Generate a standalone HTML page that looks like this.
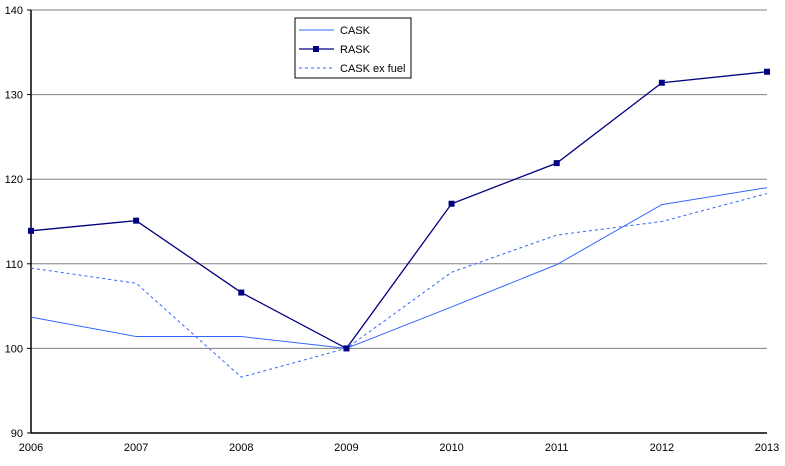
<!DOCTYPE html>
<html><head><meta charset="utf-8"><style>
body{margin:0;background:#fff;font-family:"Liberation Sans",Arial,sans-serif}
svg text{font-family:"Liberation Sans",Arial,sans-serif;font-size:11px;fill:#000}
</style></head><body>
<svg width="785" height="461">
<g id="grid"></g>
<g id="axes"></g>
<g id="series"></g>
<g>
<rect x="295" y="18" width="116" height="60" fill="#fff" stroke="#000" stroke-width="1"/>
<line x1="299" y1="30" x2="334" y2="30" stroke="#3366ff" stroke-width="1"/>
<text x="340" y="34">CASK</text>
<line x1="299" y1="49" x2="334" y2="49" stroke="#000080" stroke-width="1.3"/>
<rect x="313" y="46" width="6" height="6" fill="#000080"/>
<text x="340" y="53">RASK</text>
<line x1="299" y1="68" x2="334" y2="68" stroke="#3366ff" stroke-width="1" stroke-dasharray="3,3"/>
<text x="340" y="72">CASK ex fuel</text>
</g>
</svg>
<script>
const years=["2006","2007","2008","2009","2010","2011","2012","2013"];
const cask=[103.7,101.4,101.4,100,104.9,109.9,117.0,119.0];
const rask=[113.9,115.1,106.6,100,117.1,121.9,131.4,132.7];
const caskExFuel=[109.5,107.7,96.6,100,109.0,113.4,115.0,118.3];
const yTicks=[90,100,110,120,130,140];
const NS="http://www.w3.org/2000/svg";
const X0=31,X1=767,Y0=433,Y1=10,ymin=90,ymax=140;
const xs=i=>X0+(X1-X0)*i/(years.length-1);
const ys=v=>Y0-(v-ymin)*(Y0-Y1)/(ymax-ymin);
function mk(t,a,p){const e=document.createElementNS(NS,t);for(const k in a)e.setAttribute(k,a[k]);p.appendChild(e);return e;}
const grid=document.getElementById('grid'),axes=document.getElementById('axes'),ser=document.getElementById('series');
yTicks.forEach(v=>{
 if(v>ymin){const l=mk('line',{x1:X0,x2:X1,y1:ys(v),y2:ys(v),stroke:'#808080','stroke-width':1},grid);
 
 }
 const tk=mk('line',{x1:X0-4,x2:X0,y1:ys(v),y2:ys(v),stroke:'#000'},axes);
 
 
 const t=mk('text',{x:X0-8,y:ys(v)+4,'text-anchor':'end'},axes);t.textContent=v;
 
 
});
const ya=mk('line',{x1:X0,x2:X0,y1:Y1,y2:Y0,stroke:'#000','stroke-width':1.5},axes);


const xa=mk('line',{x1:X0,x2:X1,y1:Y0,y2:Y0,stroke:'#000','stroke-width':1.5},axes);


years.forEach((y,i)=>{const t=mk('text',{x:xs(i),y:451,'text-anchor':'middle'},axes);t.textContent=y;
 
 });
function line(vals,color,w,dash,name){
 const p=mk('polyline',{points:vals.map((v,i)=>xs(i)+','+ys(v)).join(' '),fill:'none',stroke:color,'stroke-width':w},ser);
 if(dash)p.setAttribute('stroke-dasharray',dash);
 
 
}
line(cask,'#3366ff',1,null,'cask-line');
line(caskExFuel,'#3366ff',1,'3,3','cask-ex-fuel-line');
line(rask,'#000080',1.3,null,'rask-line');
rask.forEach((v,i)=>{const r=mk('rect',{x:xs(i)-3,y:ys(v)-3,width:6,height:6,fill:'#000080'},ser);
 
 });
</script>
</body></html>
